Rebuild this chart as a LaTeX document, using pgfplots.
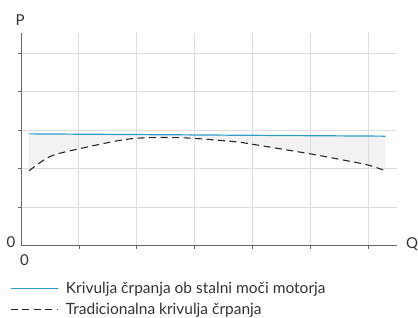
\documentclass[border=0pt]{standalone}
\usepackage{fontspec}
\setmainfont{Lato}
\usepackage{pgfplots}
\pgfplotsset{compat=1.18}
\usepgfplotslibrary{fillbetween}
\definecolor{bl}{HTML}{2E9CC6}
\definecolor{fillg}{HTML}{F2F2F2}
\definecolor{gridg}{HTML}{DDDDDD}
\definecolor{axg}{HTML}{666666}
\definecolor{txt}{HTML}{333333}
\begin{document}
\begin{tikzpicture}
\begin{axis}[
  set layers,
  scale only axis, width=376bp, height=212.5bp,
  xmin=0, xmax=6.5, ymin=0, ymax=5.52,
  axis x line=bottom, axis y line=left,
  axis line style={draw=axg, -, line width=0.8bp},
  xtick={1,...,6}, ytick={1,...,5},
  xticklabels={}, yticklabels={},
  grid=major, major grid style={draw=gridg, line width=0.7bp},
  tick style={draw=axg, line width=0.6bp},
  major tick length=3bp, tick align=outside,
  clip=false,
  legend style={at={(rel axis cs:-0.02926,-0.168)}, anchor=north west, draw=none, fill=none,
    font=\fontsize{15.5bp}{18bp}\selectfont, row sep=6bp, inner sep=0pt, text=txt,
    nodes={inner xsep=7.5bp, inner ysep=1bp}},
  legend cell align=left,
  legend image code/.code={\draw[#1] (0bp,0bp) -- (47bp,0bp);},
]
\addplot[name path=A, bl, line width=1.2bp] coordinates {(0.14,2.90) (6.30,2.84)};
\addlegendentry{Krivulja črpanja ob stalni moči motorja}
\addplot[name path=B, black!85, line width=1.1bp, dash pattern=on 7bp off 4.5bp, smooth] coordinates {
(0.14,1.94) (0.50,2.31) (1.00,2.51) (1.89,2.77) (2.75,2.80) (3.67,2.70) (4.00,2.63) (5.00,2.38) (5.57,2.22) (6.00,2.09) (6.30,1.94)};
\addlegendentry{Tradicionalna krivulja črpanja}
\addplot[fillg, forget plot] fill between[of=A and B, on layer=axis background];
\coordinate (o) at (rel axis cs:0,0);
\end{axis}
\begin{scope}[font=\fontsize{15bp}{18bp}\selectfont]
\node[anchor=base west, text=txt, inner sep=0pt] at ([shift={(-5.5bp,219.5bp)}]o) {P};
\node[anchor=base west, text=txt, inner sep=0pt] at ([shift={(385bp,-2.5bp)}]o) {Q};
\node[anchor=base east, text=txt, inner sep=0pt] at ([shift={(-5.5bp,-1.5bp)}]o) {0};
\node[anchor=base west, text=txt, inner sep=0pt] at ([shift={(-1bp,-19.5bp)}]o) {0};
\end{scope}
\pgfresetboundingbox
\path (-21bp,-72.5bp) rectangle (397bp,245.5bp);
\end{tikzpicture}
\end{document}
